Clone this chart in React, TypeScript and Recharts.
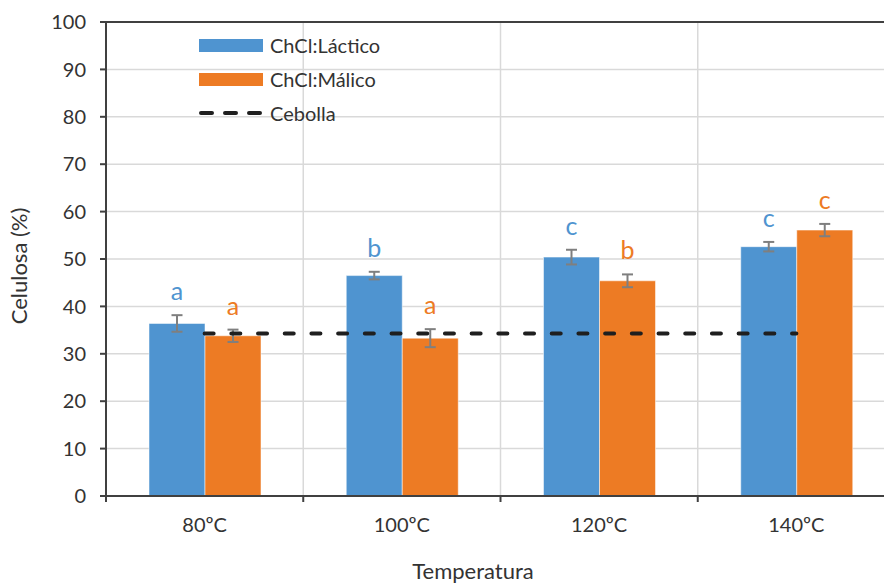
import React from 'react';
import {
  ComposedChart,
  Bar,
  Line,
  XAxis,
  YAxis,
  CartesianGrid,
  ErrorBar,
  LabelList,
  ReferenceLine,
} from 'recharts';

// values
const categories = ['80ºC', '100ºC', '120ºC', '140ºC'];
const lactico = [36.4, 46.5, 50.4, 52.6];
const lacticoErr = [1.75, 0.8, 1.55, 1.0];
const malico = [33.8, 33.3, 45.4, 56.1];
const malicoErr = [1.3, 1.9, 1.35, 1.3];
const lacticoLetters = ['a', 'b', 'c', 'c'];
const malicoLetters = ['a', 'a', 'b', 'c'];
const cebolla = [34.3, 34.3, 34.3, 34.3];
const yTicks = [0, 10, 20, 30, 40, 50, 60, 70, 80, 90, 100];

const data = categories.map((cat, i) => ({
  cat,
  lactico: lactico[i],
  lacticoErr: lacticoErr[i],
  malico: malico[i],
  malicoErr: malicoErr[i],
  cebolla: cebolla[i],
}));

const BLUE = '#4f94d0';
const ORANGE = '#ed7b24';
const AXIS = '#404040';
const GRID = '#d9d9d9';
const TEXT = '#333333';
const FONT = 'Lato';

const W = 920;
const H = 586;
const MARGIN = { top: 22, right: 25, bottom: 0, left: 46 };
const Y_AXIS_W = 60;
const X_AXIS_H = 90;
const PLOT_W = W - MARGIN.left - MARGIN.right - Y_AXIS_W;
const PLOT_H = H - MARGIN.top - MARGIN.bottom - X_AXIS_H;
const BAND = PLOT_W / categories.length;

function XTick(props: any) {
  const { x, y, payload, index } = props;
  const left = x - BAND / 2;
  return (
    <g>
      <line x1={left} x2={left} y1={y} y2={y + 6} stroke={AXIS} strokeWidth={2} />
      {index === categories.length - 1 && (
        <line x1={x + BAND / 2} x2={x + BAND / 2} y1={y} y2={y + 6} stroke={AXIS} strokeWidth={2} />
      )}
      <text x={x} y={y + 36} textAnchor="middle" fontFamily={FONT} fontSize={20} fill={TEXT}>
        {payload.value}
      </text>
    </g>
  );
}

function letterLabel(letters: string[], errs: number[], color: string) {
  return (props: any) => {
    const vb = props.viewBox ?? props;
    const { x, y, width } = vb;
    const i = props.index;
    const errPx = (errs[i] * PLOT_H) / 100;
    return (
      <text
        x={x + width / 2}
        y={y - errPx - 15}
        textAnchor="middle"
        fontFamily={FONT}
        fontSize={25}
        fill={color}
      >
        {letters[i]}
      </text>
    );
  };
}

function Legend() {
  const row = { display: 'flex', alignItems: 'center', height: 34 } as const;
  const label = { fontFamily: FONT, fontSize: 20, color: TEXT, marginLeft: 7, lineHeight: '22px' };
  return (
    <div style={{ position: 'absolute', left: 199, top: 28 }}>
      <div style={row}>
        <div style={{ width: 64, height: 13, background: BLUE }} />
        <span style={label}>ChCl:Láctico</span>
      </div>
      <div style={row}>
        <div style={{ width: 64, height: 13, background: ORANGE }} />
        <span style={label}>ChCl:Málico</span>
      </div>
      <div style={row}>
        <svg width={64} height={8}>
          <line x1={2} x2={64} y1={4} y2={4} stroke="#1f1f1f" strokeWidth={4} strokeDasharray="11 13" strokeLinecap="round" />
        </svg>
        <span style={label}>Cebolla</span>
      </div>
    </div>
  );
}

export default function App() {
  return (
    <div style={{ position: 'fixed', left: 0, top: 0, width: 884, height: 586, overflow: 'hidden', background: 'white' }}>
      <ComposedChart width={W} height={H} data={data} margin={MARGIN} barSize={56} barGap={0}>
        <CartesianGrid
          stroke={GRID}
          strokeWidth={1.5}
          verticalCoordinatesGenerator={({ offset }: any) =>
            categories.slice(1).map((_, i) => offset.left + (i + 1) * (offset.width / categories.length))
          }
        />
        <XAxis
          dataKey="cat"
          height={X_AXIS_H}
          interval={0}
          tickLine={false}
          tickSize={0}
          tickMargin={0}
          axisLine={{ stroke: AXIS, strokeWidth: 2 }}
          tick={<XTick />}
          label={() => (
            <text x={473} y={579} textAnchor="middle" fontFamily={FONT} fontSize={22} fill={TEXT}>
              Temperatura
            </text>
          )}
        />
        <YAxis
          width={Y_AXIS_W}
          domain={[0, 100]}
          ticks={yTicks}
          interval={0}
          tickSize={6}
          tickMargin={14}
          axisLine={{ stroke: AXIS, strokeWidth: 2 }}
          tickLine={{ stroke: AXIS, strokeWidth: 2 }}
          tick={{ fontFamily: FONT, fontSize: 20, fill: TEXT }}
          label={() => (
            <text
              x={27}
              y={266}
              transform="rotate(-90 27 266)"
              textAnchor="middle"
              fontFamily={FONT}
              fontSize={22}
              fill={TEXT}
            >
              Celulosa (%)
            </text>
          )}
        />
        <ReferenceLine y={100} stroke={AXIS} strokeWidth={2} />
        <Bar dataKey="lactico" fill={BLUE} stroke="#ffffff" strokeOpacity={0.5} strokeWidth={1} isAnimationActive={false}>
          <ErrorBar dataKey="lacticoErr" direction="y" width={5.5} stroke="#7f7f7f" strokeWidth={2} />
          <LabelList dataKey="lactico" content={letterLabel(lacticoLetters, lacticoErr, BLUE)} />
        </Bar>
        <Bar dataKey="malico" fill={ORANGE} stroke="#ffffff" strokeOpacity={0.5} strokeWidth={1} isAnimationActive={false}>
          <ErrorBar dataKey="malicoErr" direction="y" width={5.5} stroke="#7f7f7f" strokeWidth={2} />
          <LabelList dataKey="malico" content={letterLabel(malicoLetters, malicoErr, ORANGE)} />
        </Bar>
        <Line
          dataKey="cebolla"
          stroke="#1f1f1f"
          strokeWidth={4}
          strokeDasharray="9 17.7"
          strokeLinecap="round"
          dot={false}
          activeDot={false}
          isAnimationActive={false}
        />
      </ComposedChart>
      <Legend />
    </div>
  );
}
